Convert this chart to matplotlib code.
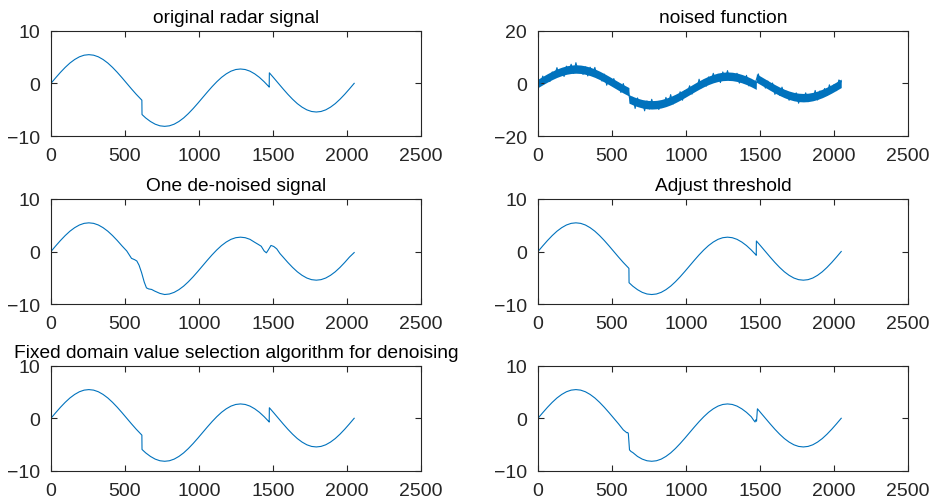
import matplotlib.pyplot as plt

plt.rcParams['font.family'] = ['Liberation Sans', 'DejaVu Sans']

# señal original (muestras leídas cada 32 puntos, más los saltos)
x_orig = [0, 32, 64, 96, 128, 160, 192, 224, 256, 288, 320, 352, 384, 416, 448, 480,
          512, 544, 576, 608, 614, 615, 640, 672, 704, 736, 768, 800, 832, 864, 896,
          928, 960, 992, 1024, 1056, 1088, 1120, 1152, 1184, 1216, 1248, 1280, 1312,
          1344, 1376, 1408, 1440, 1472, 1474, 1475, 1504, 1536, 1568, 1600, 1632, 1664,
          1696, 1728, 1760, 1792, 1824, 1856, 1888, 1920, 1952, 1984, 2016, 2048]
y_orig = [0, 1.06, 2.08, 3.02, 3.85, 4.52, 5.03, 5.34, 5.44, 5.34, 5.03, 4.52, 3.85,
          3.02, 2.08, 1.06, 0, -1.06, -2.08, -3.02, -3.20, -5.92, -6.57, -7.24, -7.75,
          -8.06, -8.16, -8.06, -7.75, -7.24, -6.57, -5.74, -4.80, -3.78, -2.72, -1.66,
          -0.64, 0.30, 1.13, 1.80, 2.31, 2.62, 2.72, 2.62, 2.31, 1.80, 1.13, 0.30,
          -0.64, -0.72, 2.00, 1.06, 0, -1.06, -2.08, -3.02, -3.85, -4.52, -5.03,
          -5.34, -5.44, -5.34, -5.03, -4.52, -3.85, -3.02, -2.08, -1.06, 0]

# señal con ruido (cada 16 puntos) y la banda que ocupa el ruido
x_noisy = list(range(0, 2049, 16))
y_noisy = [0.9, -0.67, 2.76, 0.78, 2.48, 0.66, 4.32, 2.95, 5.95, 2.81, 5.22, 2.60,
           6.53, 4.91, 7.24, 3.81, 7.84, 4.41, 5.94, 3.41, 6.23, 2.80, 6.12, 3.51,
           6.05, 2.15, 3.52, 0.86, 3.48, -0.72, 1.86, -0.57, 1.80, -1.13, 0.04, -3.48,
           -0.08, -3.76, -2.12, -7.67, -5.27, -9.53, -5.54, -8.42, -6.75, -10.43,
           -6.66, -9.73, -6.06, -8.93, -6.86, -9.93, -7.15, -8.92, -5.34, -8.03,
           -4.27, -7.87, -5.04, -6.58, -3.20, -6.40, -2.78, -3.75, -0.92, -4.09,
           -1.26, -2.34, 1.56, -1.66, 1.20, -1.07, 2.43, 0.79, 3.80, 0.68, 3.41, 0.29,
           4.32, 1.79, 4.82, 1.09, 3.12, 1.49, 3.81, 0.08, 2.60, 0.19, 3.03, -0.97,
           1.50, -0.76, 0.96, 3.58, -0.04, 1.23, -1.80, 0.87, -1.96, 0.12, -4.18,
           -1.56, -4.52, -1.45, -4.45, -3.01, -6.42, -4.00, -6.33, -3.61, -7.54,
           -4.51, -6.44, -3.61, -6.94, -4.71, -6.23, -2.70, -6.32, -2.91, -4.55,
           -1.95, -4.42, -0.56, -2.98, -0.48, -2.76, 1.27, 0.60]
noise_top = [1.6, 2.66, 3.68, 4.62, 5.45, 6.12, 6.63, 6.94, 7.04, 6.94, 6.63, 6.12,
             5.45, 4.62, 3.68, 2.66, 1.6, 0.54, -0.48, -1.42, -1.60, -4.32, -4.97,
             -5.64, -6.15, -6.46, -6.56, -6.46, -6.15, -5.64, -4.97, -4.14, -3.20,
             -2.18, -1.12, -0.06, 0.96, 1.90, 2.73, 3.40, 3.91, 4.22, 4.32, 4.22, 3.91,
             3.40, 2.73, 1.90, 0.96, 0.88, 3.60, 2.66, 1.6, 0.54, -0.48, -1.42, -2.25,
             -2.92, -3.43, -3.74, -3.84, -3.74, -3.43, -2.92, -2.25, -1.42, -0.48,
             0.54, 1.6]
noise_bottom = [-1.6, -0.54, 0.48, 1.42, 2.25, 2.92, 3.43, 3.74, 3.84, 3.74, 3.43,
                2.92, 2.25, 1.42, 0.48, -0.54, -1.6, -2.66, -3.68, -4.62, -4.80, -7.52,
                -8.17, -8.84, -9.35, -9.66, -9.76, -9.66, -9.35, -8.84, -8.17, -7.34,
                -6.40, -5.38, -4.32, -3.26, -2.24, -1.30, -0.47, 0.20, 0.71, 1.02, 1.12,
                1.02, 0.71, 0.20, -0.47, -1.30, -2.24, -2.32, 0.40, -0.54, -1.6, -2.66,
                -3.68, -4.62, -5.45, -6.12, -6.63, -6.94, -7.04, -6.94, -6.63, -6.12,
                -5.45, -4.62, -3.68, -2.66, -1.6]

# una señal suavizada
x_one = [0, 32, 64, 96, 128, 160, 192, 224, 256, 288, 320, 352, 384, 416, 448, 480,
         512, 544, 565, 580, 595, 612, 630, 645, 660, 680, 700, 736, 768, 800, 832,
         864, 896, 928, 960, 992, 1024, 1056, 1088, 1120, 1152, 1184, 1216, 1248,
         1280, 1312, 1344, 1376, 1400, 1420, 1440, 1455, 1468, 1486, 1505, 1525,
         1547, 1568, 1600, 1632, 1664, 1696, 1728, 1760, 1792, 1824, 1856, 1888,
         1920, 1952, 1984, 2016, 2048]
y_one = [0, 1.06, 2.08, 3.02, 3.85, 4.52, 5.03, 5.34, 5.44, 5.34, 5.03, 4.52, 3.85,
         3.02, 2.08, 1.06, 0.1, -1.3, -1.55, -1.8, -2.6, -4.0, -5.8, -6.9, -7.1,
         -7.2, -7.5, -7.95, -8.16, -8.06, -7.75, -7.24, -6.57, -5.74, -4.80, -3.78,
         -2.72, -1.66, -0.64, 0.30, 1.13, 1.80, 2.31, 2.62, 2.72, 2.62, 2.31, 1.75,
         1.35, 1.0, 0.1, -0.25, 0.3, 1.15, 0.95, 0.5, -0.4, -1.06, -2.08, -3.02,
         -3.85, -4.52, -5.03, -5.34, -5.44, -5.34, -5.03, -4.52, -3.85, -3.02, -2.08,
         -1.06, -0.2]

# umbral ajustado
y_adj = list(y_orig)
# algoritmo de valor fijo
y_fixed = list(y_orig)

# sexto gráfico
x_last = [0, 32, 64, 96, 128, 160, 192, 224, 256, 288, 320, 352, 384, 416, 448, 480,
          512, 544, 576, 600, 606, 610, 618, 628, 640, 672, 704, 736, 768, 800, 832,
          864, 896, 928, 960, 992, 1024, 1056, 1088, 1120, 1152, 1184, 1216, 1248,
          1280, 1312, 1344, 1376, 1408, 1440, 1456, 1466, 1470, 1476, 1482, 1504,
          1536, 1568, 1600, 1632, 1664, 1696, 1728, 1760, 1792, 1824, 1856, 1888,
          1920, 1952, 1984, 2016, 2048]
y_last = [0, 1.06, 2.08, 3.02, 3.85, 4.52, 5.03, 5.34, 5.44, 5.34, 5.03, 4.52, 3.85,
          3.02, 2.08, 1.06, 0, -1.06, -2.2, -2.75, -2.7, -2.9, -6.0, -6.3, -6.5,
          -7.24, -7.75, -8.06, -8.16, -8.06, -7.75, -7.24, -6.57, -5.74, -4.80,
          -3.78, -2.72, -1.66, -0.64, 0.30, 1.13, 1.80, 2.31, 2.62, 2.72, 2.62, 2.31,
          1.80, 1.13, 0.30, -0.35, -0.7, -0.3, -0.55, 1.8, 1.06, 0, -1.06, -2.08,
          -3.02, -3.85, -4.52, -5.03, -5.34, -5.44, -5.34, -5.03, -4.52, -3.85,
          -3.02, -2.08, -1.06, 0]

titles = ["original radar signal", "noised function", "One de-noised signal",
          "Adjust threshold", "Fixed domain value selection algorithm for denoising", ""]
series = [(x_orig, y_orig), (x_noisy, y_noisy), (x_one, y_one),
          (x_orig, y_adj), (x_orig, y_fixed), (x_last, y_last)]

color = '#0072BD'
axcol = '#262626'

fig = plt.figure(figsize=(9.3, 5.02), dpi=100)
lefts = [0.0548, 0.5785]
bottoms = [0.727, 0.392, 0.0598]
for i in range(6):
    ax = fig.add_axes([lefts[i % 2], bottoms[i // 2], 0.398, 0.21])
    xs, ys = series[i]
    if i == 1:
        ax.fill_between(x_orig, noise_bottom, noise_top, color=color, lw=0)
        ax.plot(xs, ys, color=color, lw=0.8)
        ax.set_ylim(-20, 20)
        ax.set_yticks([-20, 0, 20])
    else:
        ax.plot(xs, ys, color=color, lw=0.8)
        ax.set_ylim(-10, 10)
        ax.set_yticks([-10, 0, 10])
    ax.set_xlim(0, 2500)
    ax.set_xticks([0, 500, 1000, 1500, 2000, 2500])
    ax.tick_params(direction='in', length=4, width=0.8, colors=axcol,
                   labelsize=14, top=True, right=True, pad=8)
    for s in ax.spines.values():
        s.set_color(axcol)
        s.set_linewidth(0.8)
    ax.set_title(titles[i], fontsize=13.8, pad=6.5)

plt.savefig("out.png")
